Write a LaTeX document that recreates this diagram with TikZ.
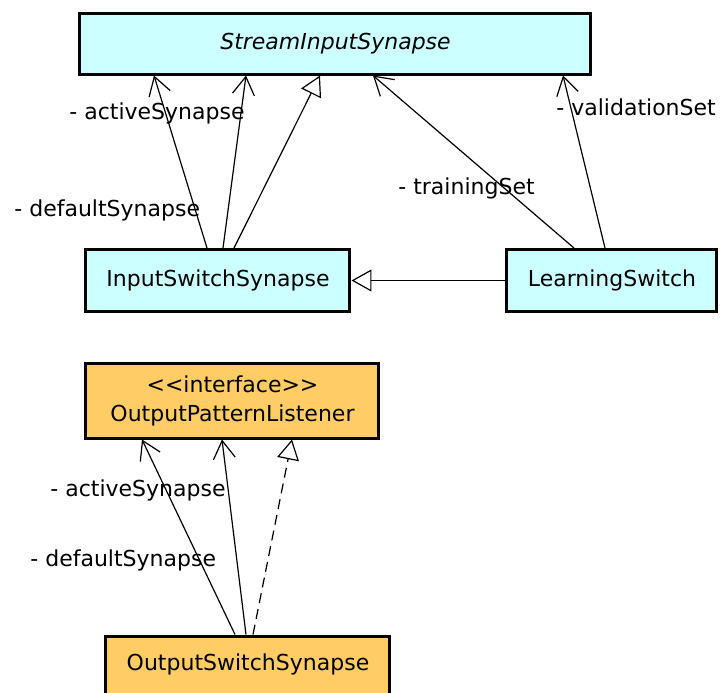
\documentclass[tikz,border=0pt]{standalone}
\usepackage{fontspec}
\setmainfont{DejaVu Sans}
\usetikzlibrary{arrows.meta,positioning,calc}
\definecolor{clsblue}{HTML}{CCFFFF}
\definecolor{ifcorange}{HTML}{FFCC66}
\tikzset{
  uml/class/.style={draw, line width=1.5pt, fill=clsblue, minimum height=31pt, inner sep=2pt, align=center, font=\fontsize{11}{14.5}\selectfont},
  uml/iface/.style={uml/class, fill=ifcorange},
  uml/assoc/.style={line width=0.6pt, -{Straight Barb[length=9pt,width=11pt,line width=0.6pt]}},
  uml/gen/.style={line width=0.6pt, -{Triangle[open,length=10pt,width=11pt,line width=0.6pt,fill=white]}},
  uml/real/.style={uml/gen, dash pattern=on 5pt off 3pt},
  uml/role/.style={anchor=west, inner sep=0pt, font=\fontsize{11}{14}\selectfont}
}

\begin{document}
\begin{tikzpicture}[x=0.5pt,y=-0.5pt]
  \useasboundingbox (0,0) rectangle (720,693);

  % input side
  \node[uml/class, minimum width=255.5pt, minimum height=30.5pt] (sis) at (335.5,43.5) {\itshape StreamInputSynapse};
  \node[uml/class, minimum width=132pt] (isw) at (218,280.5) {InputSwitchSynapse};
  \node[uml/class, minimum width=105pt] (ls) at (612,280.5) {LearningSwitch};

  \draw[uml/assoc] ($(isw.north)+(-11,0)$) -- ($(sis.south)+(-181.5,0)$);
  \draw[uml/assoc] ($(isw.north)+(5,0)$) -- ($(sis.south)+(-89.5,0)$);
  \draw[uml/gen] ($(isw.north)+(16,0)$) -- ($(sis.south)+(-15.5,0)$);
  \draw[uml/assoc] ($(ls.north)+(-38,0)$) -- ($(sis.south)+(37.5,0)$);
  \draw[uml/assoc] ($(ls.north)+(-7,0)$) -- ($(sis.south)+(227.5,0)$);
  \draw[uml/gen] (ls.west) -- (isw.east);

  \node[uml/role] (isw-act) at (69,113) {- activeSynapse};
  \node[uml/role] (isw-def) at (14,210) {- defaultSynapse};
  \node[uml/role] (ls-train) at (398,188) {- trainingSet};
  \node[uml/role] (ls-valid) at (556,107) {- validationSet};

  % output side
  \node[uml/iface, minimum width=146.5pt, minimum height=37.5pt] (opl) at (232.5,400.5) {{<}{<}interface{>}{>}\\OutputPatternListener};
  \node[uml/iface, minimum width=142pt, minimum height=36pt, text depth=10pt] (osw) at (248,672) {OutputSwitchSynapse};

  \draw[uml/assoc] ($(osw.north)+(-13,0)$) -- ($(opl.south)+(-90.5,0)$);
  \draw[uml/assoc] ($(osw.north)+(-2,0)$) -- ($(opl.south)+(-10.5,0)$);
  \draw[uml/real] ($(osw.north)+(5,0)$) -- ($(opl.south)+(59.5,0)$);

  \node[uml/role] (osw-act) at (50,490) {- activeSynapse};
  \node[uml/role] (osw-def) at (30,560) {- defaultSynapse};
\end{tikzpicture}
\end{document}
